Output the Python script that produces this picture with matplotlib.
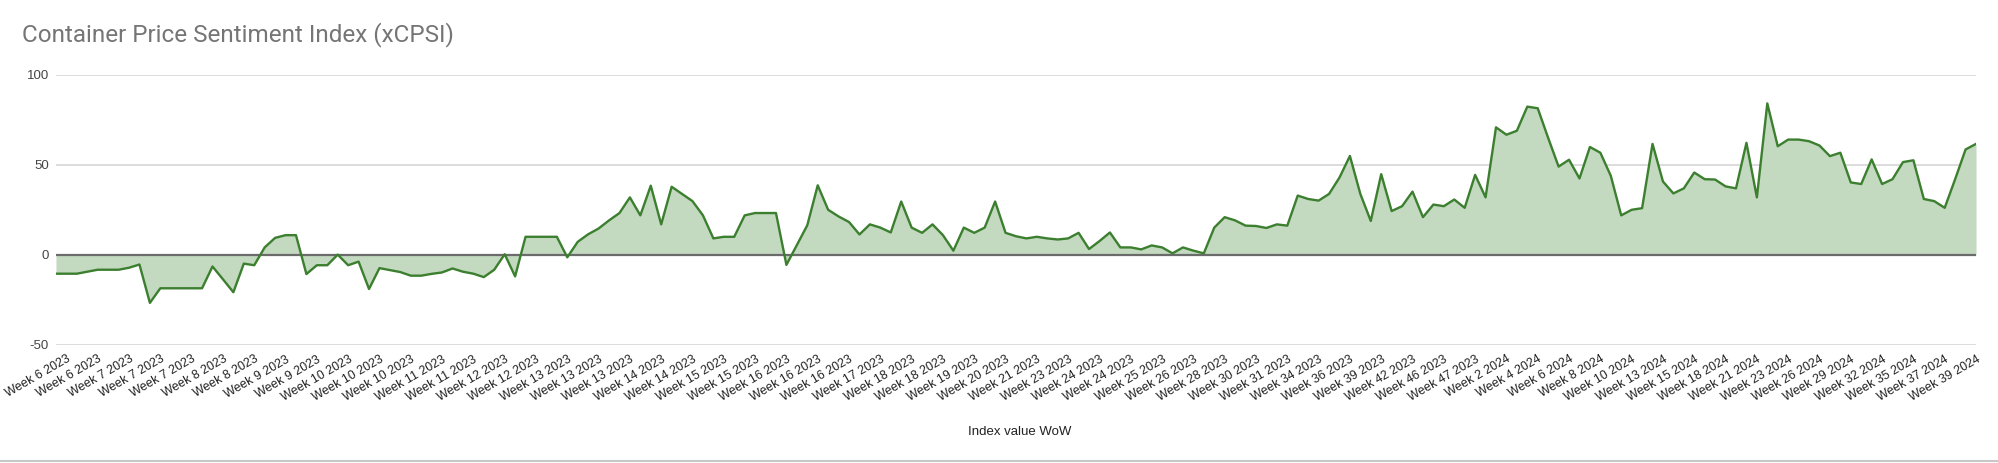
import matplotlib
matplotlib.use('Agg')
import matplotlib.pyplot as plt
import numpy as np

# x-axis tick labels (one per 3 data points)
week_labels = [
    'Week 6 2023', 'Week 6 2023', 'Week 7 2023', 'Week 7 2023', 'Week 7 2023',
    'Week 8 2023', 'Week 8 2023', 'Week 9 2023', 'Week 9 2023', 'Week 10 2023',
    'Week 10 2023', 'Week 10 2023', 'Week 11 2023', 'Week 11 2023', 'Week 12 2023',
    'Week 12 2023', 'Week 13 2023', 'Week 13 2023', 'Week 13 2023', 'Week 14 2023',
    'Week 14 2023', 'Week 15 2023', 'Week 15 2023', 'Week 16 2023', 'Week 16 2023',
    'Week 16 2023', 'Week 17 2023', 'Week 18 2023', 'Week 18 2023', 'Week 19 2023',
    'Week 20 2023', 'Week 21 2023', 'Week 23 2023', 'Week 24 2023', 'Week 24 2023',
    'Week 25 2023', 'Week 26 2023', 'Week 28 2023', 'Week 30 2023', 'Week 31 2023',
    'Week 34 2023', 'Week 36 2023', 'Week 39 2023', 'Week 42 2023', 'Week 46 2023',
    'Week 47 2023', 'Week 2 2024', 'Week 4 2024', 'Week 6 2024', 'Week 8 2024',
    'Week 10 2024', 'Week 13 2024', 'Week 15 2024', 'Week 18 2024', 'Week 21 2024',
    'Week 23 2024', 'Week 26 2024', 'Week 29 2024', 'Week 32 2024', 'Week 35 2024',
    'Week 37 2024', 'Week 39 2024',
]

# index values
index_values = [
    -10.4, -10.4, -10.4, -9.3, -8.2, -8.2, -8.2, -7.1, -5.3, -26.6,
    -18.5, -18.5, -18.5, -18.5, -18.5, -6.4, -13.5, -20.7, -4.8, -5.7,
    4.2, 9.5, 11.0, 11.0, -10.6, -5.7, -5.7, 0.2, -5.7, -3.7,
    -18.9, -7.3, -8.4, -9.5, -11.5, -11.5, -10.5, -9.7, -7.5, -9.3,
    -10.4, -12.3, -8.2, 0.4, -11.9, 10.1, 10.1, 10.1, 10.1, -1.3,
    7.3, 11.5, 14.7, 19.2, 23.3, 32.0, 22.0, 38.5, 17.0, 37.9,
    33.9, 29.9, 22.0, 9.2, 10.1, 10.1, 22.0, 23.3, 23.3, 23.3,
    -5.5, 5.5, 16.5, 38.7, 25.1, 21.4, 18.3, 11.4, 17.0, 15.2,
    12.5, 29.7, 15.2, 12.3, 17.0, 11.0, 2.4, 15.2, 12.3, 15.2,
    29.7, 12.3, 10.4, 9.2, 10.1, 9.2, 8.6, 9.2, 12.3, 3.3,
    7.7, 12.5, 4.2, 4.2, 3.1, 5.3, 4.2, 0.9, 4.2, 2.4,
    0.9, 15.2, 21.0, 19.2, 16.3, 16.1, 15.0, 17.0, 16.3, 33.0,
    31.1, 30.2, 33.9, 43.0, 55.0, 33.9, 18.9, 44.9, 24.4, 27.1,
    35.2, 21.0, 28.0, 27.1, 30.8, 26.2, 44.5, 32.0, 70.9, 66.8,
    69.0, 82.4, 81.5, 65.0, 49.1, 52.9, 42.5, 60.0, 56.8, 44.0,
    22.0, 25.1, 26.0, 61.7, 40.8, 34.2, 37.0, 45.8, 42.1, 41.9,
    38.1, 37.0, 62.3, 32.0, 84.2, 60.4, 64.1, 64.1, 63.2, 60.8,
    54.9, 56.8, 40.3, 39.4, 53.1, 39.4, 42.1, 51.6, 52.6, 31.1,
    29.9, 26.2, 42.1, 58.6, 61.7,
]

y_ticks = [-50, 0, 50, 100]

LINE_COLOR = '#3b7f2f'
FILL_COLOR = '#c3d9c0'

x = np.arange(len(index_values))
y = np.array(index_values)

fig = plt.figure(figsize=(19.99, 4.63), dpi=100)
ax = fig.add_axes([0.028, 0.2549, 0.9605, 0.5832])

# 그리드
for t in y_ticks:
    if t == 0:
        continue
    ax.axhline(t, color='#d6d6d6', linewidth=1.2, zorder=0)

ax.fill_between(x, 0, y, color=FILL_COLOR, linewidth=0, zorder=1)
ax.axhline(0, color='#6b6b6b', linewidth=1.6, zorder=2)
ax.plot(x, y, color=LINE_COLOR, linewidth=1.7, zorder=3)

ax.set_xlim(0, len(index_values) - 1)
ax.set_ylim(-50, 100)

for s in ax.spines.values():
    s.set_visible(False)

ax.set_yticks(y_ticks)
ax.set_yticklabels([str(t) for t in y_ticks], fontsize=9.5, color='#444444',
                   family='Liberation Sans')
ax.tick_params(axis='y', length=0, pad=5)

tick_pos = list(range(1, len(index_values), 3))[:len(week_labels)]
ax.set_xticks(tick_pos)
ax.set_xticklabels(week_labels, rotation=30, ha='right', va='top',
                   rotation_mode='anchor', fontsize=8.9, color='#222222',
                   family='Liberation Sans')
ax.tick_params(axis='x', length=0, pad=6)

ax.set_xlabel('Index value WoW', fontsize=9.5, color='#222222',
              family='Liberation Sans')
ax.xaxis.set_label_coords(0.502, -0.30)

fig.text(0.011, 0.925, 'Container Price Sentiment Index (xCPSI)',
         fontsize=17.5, color='#757575', family='Roboto', va='center', ha='left')

# 하단 테두리
fig.add_artist(plt.Line2D([0, 1], [0.004, 0.004], color='#c8c8c8', linewidth=1.5))

plt.savefig('out.png', dpi=100)
plt.close()
